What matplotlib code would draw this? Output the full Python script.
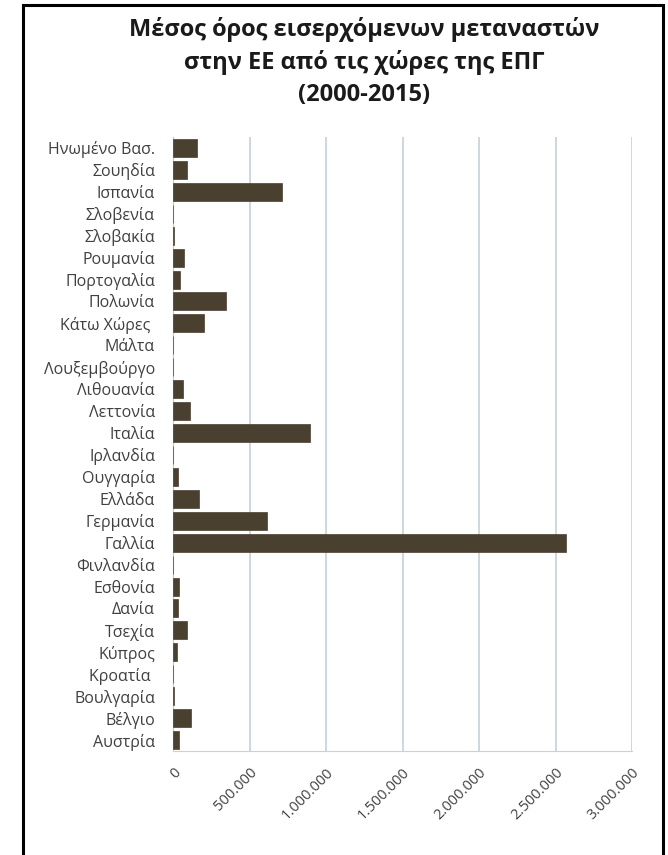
import matplotlib
matplotlib.use("Agg")
import matplotlib.pyplot as plt
from matplotlib.patches import Rectangle
from matplotlib.ticker import FuncFormatter

# countries, bottom to top (as drawn by the horizontal bar chart)
countries = [
    "Αυστρία", "Βέλγιο", "Βουλγαρία", "Κροατία ", "Κύπρος", "Τσεχία",
    "Δανία", "Εσθονία", "Φινλανδία", "Γαλλία", "Γερμανία", "Ελλάδα",
    "Ουγγαρία", "Ιρλανδία", "Ιταλία", "Λεττονία", "Λιθουανία",
    "Λουξεμβούργο", "Μάλτα", "Κάτω Χώρες ", "Πολωνία", "Πορτογαλία",
    "Ρουμανία", "Σλοβακία", "Σλοβενία", "Ισπανία", "Σουηδία",
    "Ηνωμένο Βασ.",
]
# average incoming migrants 2000-2015
migrants = [
    39000, 118000, 8000, 800, 24000, 92000,
    30000, 38000, 3000, 2570000, 614000, 170000,
    30000, 3000, 895000, 111000, 65000,
    1000, 500, 203000, 347000, 48000,
    72000, 5000, 1500, 712000, 91000,
    157000,
]
x_ticks = [0, 500000, 1000000, 1500000, 2000000, 2500000, 3000000]

TITLE = "Μέσος όρος εισερχόμενων μεταναστών\nστην ΕΕ από τις χώρες της ΕΠΓ\n(2000-2015)"
FONT = ["Open Sans", "DejaVu Sans"]

plt.rcParams["font.family"] = FONT

fig = plt.figure(figsize=(6.68, 8.55), dpi=100)
ax = fig.add_axes([173 / 668, 1 - 751 / 855, (632 - 173) / 668, (751 - 137) / 855])

ax.barh(range(len(countries)), migrants, height=0.82, color="#4a4030",
        edgecolor="#4a4030", linewidth=0.5, zorder=3)

ax.set_xlim(0, 3000000)
ax.set_ylim(-0.5, len(countries) - 0.5)
ax.set_xticks(x_ticks)
ax.xaxis.set_major_formatter(FuncFormatter(lambda v, _: f"{int(v):,}".replace(",", ".")))
ax.set_yticks(range(len(countries)))
ax.set_yticklabels(countries)

ax.grid(axis="x", color="#c3d1db", linewidth=1.2, zorder=0)
ax.tick_params(axis="y", length=0, pad=13, labelsize=11.5, labelcolor="#404040")
ax.tick_params(axis="x", length=0, pad=10, labelsize=10.5, labelcolor="#404040")
for lbl in ax.get_xticklabels():
    lbl.set_rotation(45)
    lbl.set_ha("right")
    lbl.set_rotation_mode("anchor")

for side in ["top", "right"]:
    ax.spines[side].set_visible(False)
ax.spines["left"].set_color("#c8c8c8")
ax.spines["bottom"].set_color("#d0d0d0")

fig.text(364 / 668, 1 - 62 / 855, TITLE, ha="center", va="center",
         fontsize=17, fontweight="bold", color="#1a1a1a", linespacing=1.45)

# black frame around the chart (open at the bottom edge of the image)
fig.add_artist(Rectangle((23 / 668, -0.05), (663 - 23) / 668, 1.05 - 5 / 855,
                         transform=fig.transFigure, fill=False,
                         edgecolor="black", linewidth=2.2))

fig.savefig("out.png", dpi=100)
